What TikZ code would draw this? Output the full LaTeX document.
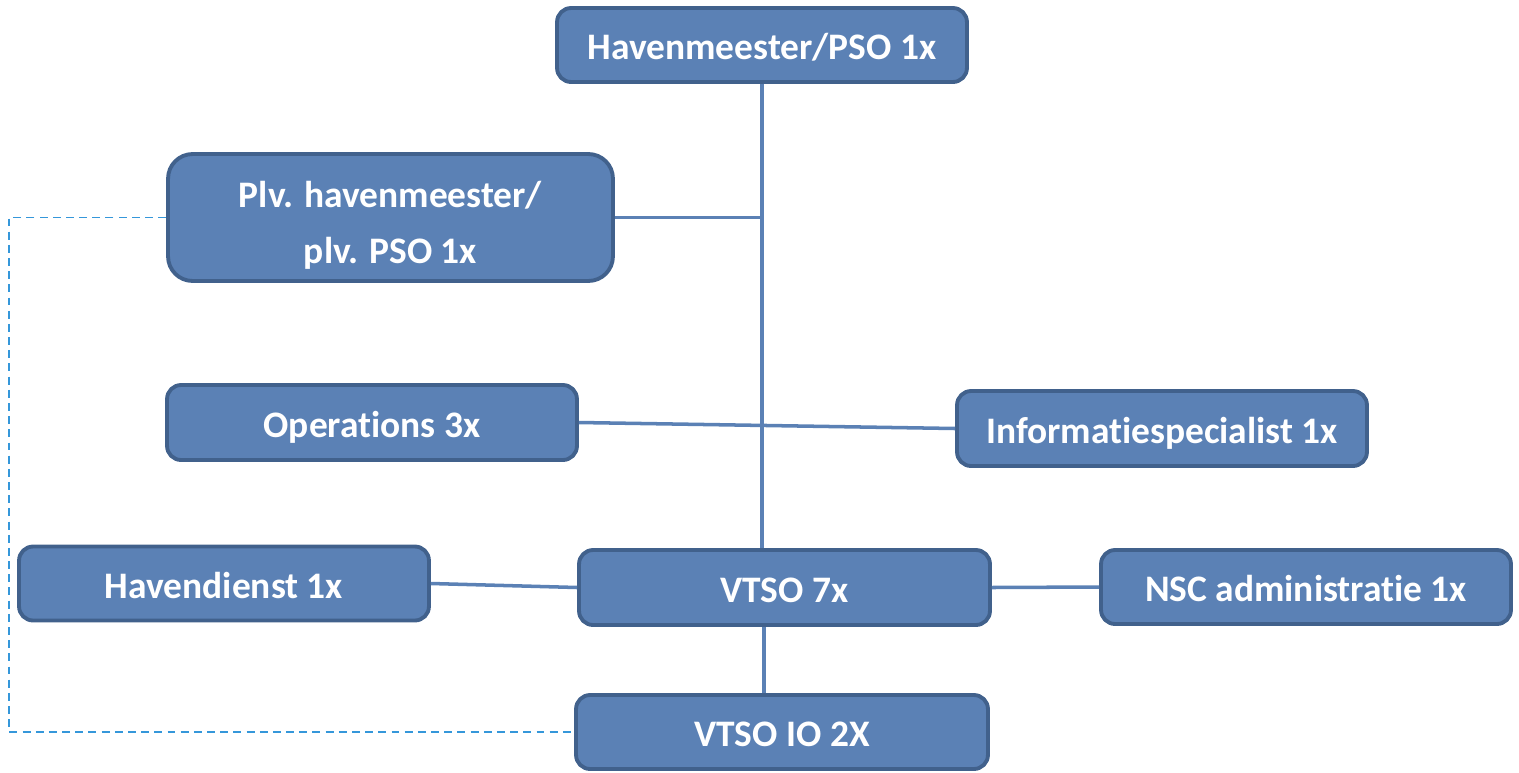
\documentclass[tikz,border=0pt]{standalone}
\usepackage{fontspec}
\setmainfont{Carlito}[Ligatures={NoCommon,NoRare,NoContextual}]
\usepackage{tikz}
\definecolor{boxfill}{HTML}{5B81B5}
\definecolor{boxline}{HTML}{41618C}
\definecolor{linkblue}{HTML}{5B81B5}
\definecolor{dashblue}{HTML}{3597DA}
\tikzset{
  unit/.style={draw=boxline, fill=boxfill, line width=2.2pt, rounded corners=8pt,
    text=white, font=\fontsize{21.3}{32}\selectfont\bfseries, align=center,
    inner sep=0pt, minimum width=8.2cm, minimum height=1.48cm},
  oneline/.style={unit, text height=0.58cm, text depth=0pt},
  link/.style={linkblue, line width=2pt},
  dotlink/.style={dashblue, line width=1pt, dash pattern=on 4.5pt off 3pt}
}

\begin{document}
\begin{tikzpicture}[x=0.02cm,y=-0.02cm]
\useasboundingbox (0,0) rectangle (1519,772);
\node[oneline] (hm) at (762,45) {Havenmeester/PSO 1x};
\node[unit, minimum width=8.9cm, minimum height=2.54cm, rounded corners=14pt] (plv) at (390.5,217.5) {\rule{0pt}{0.85cm}Plv. havenmeester/\\plv. PSO 1x};
\node[oneline, minimum height=1.5cm] (ops) at (372,422.5) {Operations 3x};
\node[oneline, minimum height=1.5cm] (info) at (1162,428.5) {Informatiespecialist 1x};
\node[oneline] (hd) at (224,583.5) {Havendienst 1x};
\node[oneline, minimum width=8.22cm, minimum height=1.5cm] (vtso) at (784.5,587.5) {VTSO 7x};
\node[oneline] (nsc) at (1306,587) {NSC administratie 1x};
\node[oneline, minimum width=8.24cm] (io) at (782,732) {VTSO IO 2X};

% lijnen
\draw[link] (hm.south) -- (hm.south |- vtso.north);
\draw[link] (plv.east) -- (plv.east -| hm.south);
\draw[link] (ops.east) -- (info.west);
\draw[link] (hd.east) -- (vtso.west);
\draw[link] (vtso.east) -- (nsc.west);
\draw[link] ([xshift=0.04cm]vtso.south -| hm.south) -- ([xshift=0.04cm]io.north -| hm.south);
\draw[dotlink] (plv.west) -- (plv.west -| 9,0) |- (io.west);
\end{tikzpicture}
\end{document}
